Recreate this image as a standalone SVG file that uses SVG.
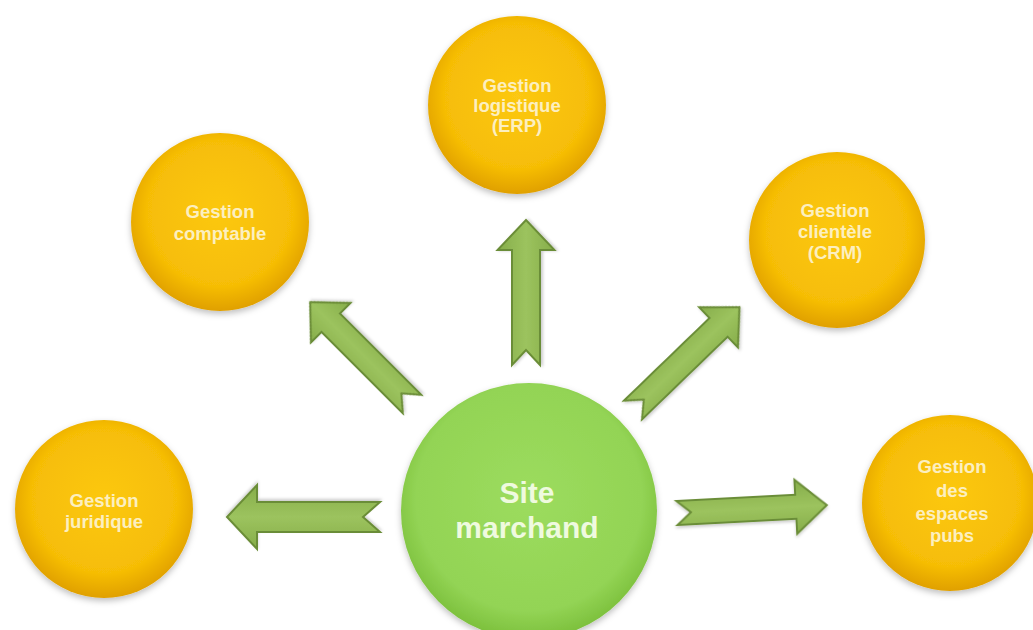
<svg xmlns="http://www.w3.org/2000/svg" width="1033" height="630" viewBox="0 0 1033 630">
  <defs>
    <radialGradient id="gy" cx="50%" cy="45%" r="55%">
      <stop offset="0" stop-color="#fcc812"/>
      <stop offset="0.75" stop-color="#f6bd06"/>
      <stop offset="1" stop-color="#e0a000"/>
    </radialGradient>
    <radialGradient id="gg" cx="50%" cy="45%" r="55%">
      <stop offset="0" stop-color="#9cdc5e"/>
      <stop offset="0.8" stop-color="#93d455"/>
      <stop offset="1" stop-color="#7cc03c"/>
    </radialGradient>
    <linearGradient id="ga" x1="0" y1="0" x2="0" y2="1">
      <stop offset="0" stop-color="#86ad4a"/>
      <stop offset="0.5" stop-color="#9cc35e"/>
      <stop offset="1" stop-color="#86ad4a"/>
    </linearGradient>
    <filter id="sh" x="-20%" y="-20%" width="140%" height="150%">
      <feDropShadow dx="0" dy="3" stdDeviation="3" flood-color="#000" flood-opacity="0.25"/>
    </filter>
    <filter id="sha" x="-20%" y="-30%" width="140%" height="160%">
      <feDropShadow dx="0" dy="2" stdDeviation="1.5" flood-color="#000" flood-opacity="0.2"/>
    </filter>
  </defs>
  <style>
    .ny { fill: url(#gy); filter: url(#sh); }
    .ng { fill: url(#gg); filter: url(#sh); }
    .ty { font-family: "Liberation Sans", Arial, sans-serif; font-weight: bold; font-size: 18.5px; fill: #fcefc0; text-anchor: middle; }
    .tg { font-family: "Liberation Sans", Arial, sans-serif; font-weight: bold; font-size: 30px; fill: #effadf; text-anchor: middle; }
    .arr { fill: url(#ga); stroke: #6b8d37; stroke-width: 2; stroke-linejoin: miter; filter: url(#sha); }
  </style>
  <rect width="1033" height="630" fill="#ffffff"/>

  <g id="connectors">
    <path class="arr" transform="translate(526,365) rotate(-90)" d="M0,-14 L115,-14 L115,-28.5 L145,0 L115,28.5 L115,14 L0,14 L15,0 Z"/>
    <path class="arr" transform="translate(380,517) rotate(180)" d="M0,-15 L123,-15 L123,-32 L153,0 L123,32 L123,15 L0,15 L17,0 Z"/>
    <path class="arr" transform="translate(677,513) rotate(-3)" d="M0,-12 L119,-12 L119,-27 L150,0 L119,27 L119,12 L0,12 L14,0 Z"/>
    <path class="arr" transform="translate(412,404) rotate(225)" d="M0,-13 L115,-13 L115,-28 L144,0 L115,28 L115,13 L0,13 L15,0 Z"/>
    <path class="arr" transform="translate(633,410) rotate(-44)" d="M0,-13 L119,-13 L119,-28 L148,0 L119,28 L119,13 L0,13 L15,0 Z"/>
  </g>

  <g id="node-erp">
    <circle class="ny" cx="517" cy="105" r="89"/>
    <text class="ty" x="517" y="92">Gestion</text>
    <text class="ty" x="517" y="112">logistique</text>
    <text class="ty" x="517" y="132">(ERP)</text>
  </g>
  <g id="node-comptable">
    <circle class="ny" cx="220" cy="222" r="89"/>
    <text class="ty" x="220" y="218">Gestion</text>
    <text class="ty" x="220" y="240">comptable</text>
  </g>
  <g id="node-crm">
    <circle class="ny" cx="837" cy="240" r="88"/>
    <text class="ty" x="835" y="217">Gestion</text>
    <text class="ty" x="835" y="238">clientèle</text>
    <text class="ty" x="835" y="259">(CRM)</text>
  </g>
  <g id="node-juridique">
    <circle class="ny" cx="104" cy="509" r="89"/>
    <text class="ty" x="104" y="507">Gestion</text>
    <text class="ty" x="104" y="528">juridique</text>
  </g>
  <g id="node-pubs">
    <circle class="ny" cx="950" cy="503" r="88"/>
    <text class="ty" x="952" y="473">Gestion</text>
    <text class="ty" x="952" y="497">des</text>
    <text class="ty" x="952" y="520">espaces</text>
    <text class="ty" x="952" y="542">pubs</text>
  </g>
  <g id="node-site">
    <circle class="ng" cx="529" cy="511" r="128"/>
    <text class="tg" x="527" y="503">Site</text>
    <text class="tg" x="527" y="538">marchand</text>
  </g>
</svg>
